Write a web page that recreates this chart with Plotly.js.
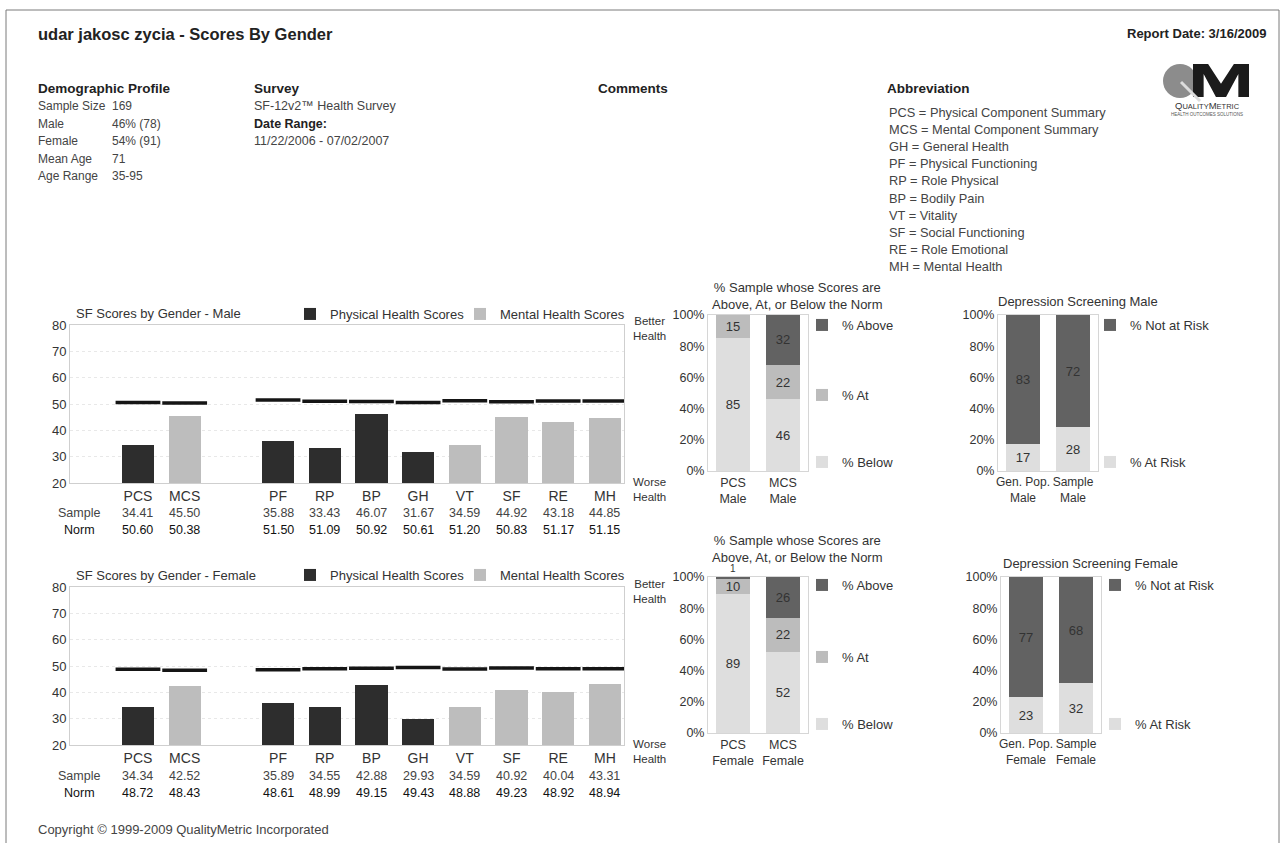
<!DOCTYPE html>
<html><head><meta charset="utf-8">
<script src="https://cdn.plot.ly/plotly-3.0.1.min.js"></script>
<style>html,body{margin:0;padding:0;background:#fff}#chart{width:1285px;height:843px}</style>
</head><body><div id="chart"></div>
<script>
// ---------- data ----------
const reportTitle = 'udar jakosc zycia - Scores By Gender';
const reportDate = 'Report Date: 3/16/2009';
const demoLabels = ['Sample Size', 'Male', 'Female', 'Mean Age', 'Age Range'];
const demoValues = ['169', '46% (78)', '54% (91)', '71', '35-95'];
const surveyName = 'SF-12v2™ Health Survey';
const dateRange = '11/22/2006 - 07/02/2007';
const abbreviations = ['PCS = Physical Component Summary', 'MCS = Mental Component Summary', 'GH = General Health',
  'PF = Physical Functioning', 'RP = Role Physical', 'BP = Bodily Pain', 'VT = Vitality',
  'SF = Social Functioning', 'RE = Role Emotional', 'MH = Mental Health'];

const sfCategories = ['PCS', 'MCS', 'PF', 'RP', 'BP', 'GH', 'VT', 'SF', 'RE', 'MH'];
const sfGroup = ['Physical', 'Mental', 'Physical', 'Physical', 'Physical', 'Physical', 'Mental', 'Mental', 'Mental', 'Mental'];
const maleSample = [34.41, 45.50, 35.88, 33.43, 46.07, 31.67, 34.59, 44.92, 43.18, 44.85];
const maleNorm = [50.60, 50.38, 51.50, 51.09, 50.92, 50.61, 51.20, 50.83, 51.17, 51.15];
const femaleSample = [34.34, 42.52, 35.89, 34.55, 42.88, 29.93, 34.59, 40.92, 40.04, 43.31];
const femaleNorm = [48.72, 48.43, 48.61, 48.99, 49.15, 49.43, 48.88, 49.23, 48.92, 48.94];

const normCatsMale = ['PCS<br>Male', 'MCS<br>Male'];
const maleBelow = [85, 46];
const maleAt = [15, 22];
const maleAbove = [0, 32];
const normCatsFemale = ['PCS<br>Female', 'MCS<br>Female'];
const femaleBelow = [89, 52];
const femaleAt = [10, 22];
const femaleAbove = [1, 26];

const depCatsMale = ['Gen. Pop.<br>Male', 'Sample<br>Male'];
const maleAtRisk = [17, 28];
const maleNotAtRisk = [83, 72];
const depCatsFemale = ['Gen. Pop.<br>Female', 'Sample<br>Female'];
const femaleAtRisk = [23, 32];
const femaleNotAtRisk = [77, 68];

// ---------- helpers ----------
const W = 1285, H = 843;
const FONT = 'Liberation Sans, Arial, Helvetica, sans-serif';
const px = x => x / W;
const py = y => 1 - y / H;
function T(text, x, y, size, color, xanchor, extra) {
  return Object.assign({text, x: px(x), y: py(y), xref: 'paper', yref: 'paper', showarrow: false,
    xanchor: xanchor || 'left', yanchor: 'middle', font: {family: FONT, size: size || 12.5, color: color || '#333'}}, extra || {});
}
const sfOrder = [...sfCategories.slice(0, 2), ' ', ...sfCategories.slice(2)];

const C_PHYS = '#2d2d2d', C_MENT = '#bdbdbd';
const C_ABOVE = '#626262', C_AT = '#bcbcbc', C_BELOW = '#dedede';

function sfTraces(sample, norm, xa, ya, legP, legM) {
  const isP = sfGroup.map(g => g === 'Physical');
  return [
    {type: 'bar', name: 'Physical Health Scores', x: sfCategories.filter((c, i) => isP[i]), y: sample.filter((v, i) => isP[i]),
      marker: {color: C_PHYS}, width: 0.69, xaxis: xa, yaxis: ya, legend: legP, hoverinfo: 'skip'},
    {type: 'bar', name: 'Mental Health Scores', x: sfCategories.filter((c, i) => !isP[i]), y: sample.filter((v, i) => !isP[i]),
      marker: {color: C_MENT}, width: 0.69, xaxis: xa, yaxis: ya, legend: legM, hoverinfo: 'skip'},
    {type: 'scatter', mode: 'markers', x: sfCategories, y: norm, showlegend: false, xaxis: xa, yaxis: ya, hoverinfo: 'skip',
      marker: {symbol: 'line-ew', size: 32, color: '#151515', line: {width: 3.5, color: '#151515'}}}
  ];
}
const lbl = v => v.map(n => n > 0 ? String(n) : '');
function barSeg(name, x, y, color, xa, ya, leg, pos) {
  return {type: 'bar', name, x, y, marker: {color}, width: 0.68, xaxis: xa, yaxis: ya, legend: leg, hoverinfo: 'skip',
    text: lbl(y), textposition: pos || 'inside', insidetextanchor: 'middle', constraintext: 'none', cliponaxis: false,
    textangle: 0, textfont: {family: FONT, size: y.map(n => n < 5 ? 10 : 13), color: '#333'}};
}
const abovePos = v => v.map(n => n < 5 ? 'outside' : 'inside');

const traces = [
  ...sfTraces(maleSample, maleNorm, 'x', 'y', 'legend', 'legend2'),
  ...sfTraces(femaleSample, femaleNorm, 'x4', 'y4', 'legend3', 'legend4'),
  barSeg('% Below', normCatsMale, maleBelow, C_BELOW, 'x2', 'y2', 'legend7'),
  barSeg('% At', normCatsMale, maleAt, C_AT, 'x2', 'y2', 'legend6'),
  barSeg('% Above', normCatsMale, maleAbove, C_ABOVE, 'x2', 'y2', 'legend5', abovePos(maleAbove)),
  barSeg('% Below', normCatsFemale, femaleBelow, C_BELOW, 'x5', 'y5', 'legend10'),
  barSeg('% At', normCatsFemale, femaleAt, C_AT, 'x5', 'y5', 'legend9'),
  barSeg('% Above', normCatsFemale, femaleAbove, C_ABOVE, 'x5', 'y5', 'legend8', abovePos(femaleAbove)),
  barSeg('% At Risk', depCatsMale, maleAtRisk, C_BELOW, 'x3', 'y3', 'legend12'),
  barSeg('% Not at Risk', depCatsMale, maleNotAtRisk, C_ABOVE, 'x3', 'y3', 'legend11'),
  barSeg('% At Risk', depCatsFemale, femaleAtRisk, C_BELOW, 'x6', 'y6', 'legend14'),
  barSeg('% Not at Risk', depCatsFemale, femaleNotAtRisk, C_ABOVE, 'x6', 'y6', 'legend13'),
];

// ---------- axes ----------
const tf = s => ({family: FONT, size: s, color: '#333'});
function sfX(x0, x1, anchor) {
  return {domain: [px(x0), px(x1)], type: 'category', categoryorder: 'array', categoryarray: sfOrder, range: [-1.456, 10.41],
    anchor, showline: true, mirror: true, linecolor: '#cfcfcf', showgrid: false, zeroline: false, ticks: '', tickfont: tf(14), tickangle: 0, fixedrange: true};
}
function sfY(top, bot, anchor) {
  return {domain: [py(bot), py(top)], range: [20, 80], dtick: 10, anchor, showline: true, mirror: true, linecolor: '#cfcfcf',
    showgrid: true, gridcolor: '#e8e8e8', griddash: 'dot', zeroline: false, ticks: '', tickfont: tf(13), fixedrange: true};
}
function pctX(x0, x1, anchor, fs) {
  return {domain: [px(x0), px(x1)], type: 'category', range: [-0.5, 1.5], anchor, showline: true, mirror: true,
    linecolor: '#d6d6d6', showgrid: false, zeroline: false, ticks: '', tickfont: tf(fs || 12.5), tickangle: 0, fixedrange: true};
}
function pctY(top, bot, anchor) {
  return {domain: [py(bot), py(top)], range: [0, 100], dtick: 20, ticksuffix: '%', anchor, showline: true, mirror: true,
    linecolor: '#d6d6d6', showgrid: false, zeroline: false, ticks: '', tickfont: tf(12.5), fixedrange: true};
}
function L(x, y, size) {
  return {x: px(x), y: py(y), xanchor: 'left', yanchor: 'middle', bgcolor: 'rgba(0,0,0,0)', borderwidth: 0,
    font: {family: FONT, size: size || 13, color: '#333'}, itemwidth: 30, orientation: 'v'};
}

// ---------- annotations ----------
const ann = [];
ann.push(T('<b>' + reportTitle + '</b>', 36, 34, 16.5, '#222'));
ann.push(T('<b>' + reportDate + '</b>', 1268, 34, 13, '#222', 'right'));
ann.push(T('<b>Demographic Profile</b>', 36, 88, 13.5, '#222'));
demoLabels.forEach((l, i) => {
  ann.push(T(l, 36, 106 + i * 17.5, 12, '#444'));
  ann.push(T(demoValues[i], 110, 106 + i * 17.5, 12, '#444'));
});
ann.push(T('<b>Survey</b>', 252, 88, 13.5, '#222'));
ann.push(T(surveyName, 252, 106, 12.5, '#444'));
ann.push(T('<b>Date Range:</b>', 252, 124, 12.5, '#222'));
ann.push(T(dateRange, 252, 141, 12.5, '#444'));
ann.push(T('<b>Comments</b>', 596, 88, 13.5, '#222'));
ann.push(T('<b>Abbreviation</b>', 885, 88, 13.5, '#222'));
abbreviations.forEach((a, i) => ann.push(T(a, 887, 112 + i * 17.2, 12.8, '#444')));

// logo text
ann.push(T('Q<span style="font-size:7.5px">UALITY</span>M<span style="font-size:7.5px">ETRIC</span>', 1207, 105, 9.5, '#333', 'center'));
ann.push(T('HEALTH OUTCOMES SOLUTIONS', 1207, 114, 4.5, '#555', 'center'));

// SF chart texts
function sfTexts(title, sample, norm, xa, top, bot, catY) {
  ann.push(T(title, 74, top - 12, 13, '#333'));
  ann.push(T('Better<br>Health', 631, top + 4, 11.5, '#333'));
  ann.push(T('Worse<br>Health', 631, bot + 6, 11.5, '#333'));
  ann.push(T('Sample', 79, catY + 16, 12.5, '#444', 'center'));
  ann.push(T('Norm', 79, catY + 33, 12.5, '#111', 'center'));
  sfCategories.forEach((c, i) => {
    ann.push({text: sample[i].toFixed(2), x: c, xref: xa, y: py(catY + 16), yref: 'paper', showarrow: false, xanchor: 'center', yanchor: 'middle', font: {family: FONT, size: 12.5, color: '#444'}});
    ann.push({text: norm[i].toFixed(2), x: c, xref: xa, y: py(catY + 33), yref: 'paper', showarrow: false, xanchor: 'center', yanchor: 'middle', font: {family: FONT, size: 12.5, color: '#111'}});
  });
}
sfTexts('SF Scores by Gender - Male', maleSample, maleNorm, 'x', 325, 483, 497);
sfTexts('SF Scores by Gender - Female', femaleSample, femaleNorm, 'x4', 587, 745, 760);

ann.push(T('% Sample whose Scores are<br>Above, At, or Below the Norm', 797, 296, 13, '#333', 'center'));
ann.push(T('% Sample whose Scores are<br>Above, At, or Below the Norm', 797, 549, 13, '#333', 'center'));
ann.push(T('Depression Screening Male', 1078, 302, 13, '#333', 'center'));
ann.push(T('Depression Screening Female', 1090, 563, 13, '#333', 'center'));
ann.push(T('Copyright © 1999-2009 QualityMetric Incorporated', 36, 829, 13, '#444'));

// logo "M" drawn as a shape path (pixel box 1193-1249 x 64-97)
const mPts = [[0,1],[0,0],[0.27,0],[0.5,0.6],[0.73,0],[1,0],[1,1],[0.81,1],[0.81,0.3],[0.59,1],[0.41,1],[0.19,0.3],[0.19,1]];
const mPath = 'M' + mPts.map(p => px(1193 + p[0] * 56).toFixed(5) + ',' + py(64 + p[1] * 33).toFixed(5)).join('L') + 'Z';

const shapes = [
  {type: 'rect', xref: 'paper', yref: 'paper', x0: px(6), x1: px(1279), y0: py(860), y1: py(10), line: {color: '#7a7a7a', width: 1}},
  {type: 'circle', xref: 'paper', yref: 'paper', x0: px(1163), x1: px(1197), y0: py(98), y1: py(64), fillcolor: '#8c8c8c', line: {width: 0}},
  {type: 'path', xref: 'paper', yref: 'paper', path: mPath, fillcolor: '#1b1b1b', line: {width: 0}},
  {type: 'line', xref: 'paper', yref: 'paper', x0: px(1181), x1: px(1200), y0: py(82), y1: py(101), line: {color: '#dcdcdc', width: 3}},
];

const layout = {
  width: W, height: H, margin: {l: 0, r: 0, t: 0, b: 0}, paper_bgcolor: '#fff', plot_bgcolor: '#fff',
  barmode: 'stack', font: {family: FONT, color: '#333'},
  xaxis: sfX(70, 624, 'y'), yaxis: sfY(325, 483, 'x'),
  xaxis4: sfX(70, 624, 'y4'), yaxis4: sfY(587, 745, 'x4'),
  xaxis2: pctX(708, 808, 'y2'), yaxis2: pctY(315, 471, 'x2'),
  xaxis5: pctX(708, 808, 'y5'), yaxis5: pctY(577, 733, 'x5'),
  xaxis3: pctX(998, 1098, 'y3', 12), yaxis3: pctY(315, 471, 'x3'),
  xaxis6: pctX(1001, 1101, 'y6', 12), yaxis6: pctY(577, 733, 'x6'),
  legend: L(290, 314), legend2: L(460, 314), legend3: L(290, 575), legend4: L(460, 575),
  legend5: L(802, 325), legend6: L(802, 395), legend7: L(802, 462),
  legend8: L(802, 585), legend9: L(802, 657), legend10: L(802, 724),
  legend11: L(1090, 325), legend12: L(1090, 462),
  legend13: L(1095, 585), legend14: L(1095, 724),
  annotations: ann, shapes
};
Plotly.newPlot('chart', traces, layout, {staticPlot: true, displayModeBar: false});
</script></body></html>
